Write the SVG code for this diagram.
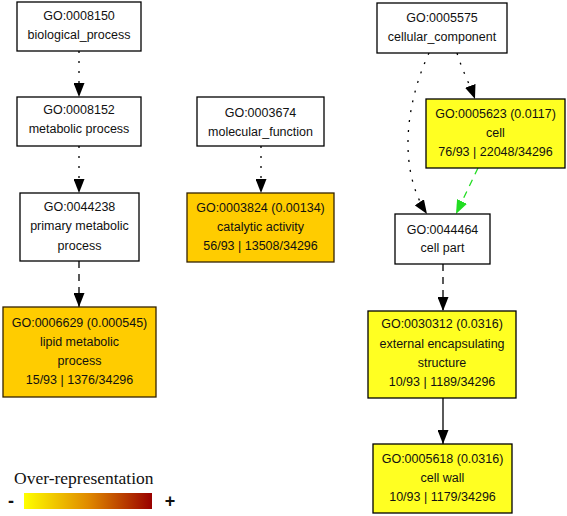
<svg xmlns="http://www.w3.org/2000/svg" width="567" height="516" viewBox="0 0 567 516">
<defs>
<marker id="ah" viewBox="0 0 14 11" refX="14" refY="5.5" markerWidth="14" markerHeight="11" markerUnits="userSpaceOnUse" orient="auto"><path d="M0,0 L14,5.5 L0,11 z" fill="#000"/></marker>
<marker id="ahg" viewBox="0 0 14 11" refX="14" refY="5.5" markerWidth="14" markerHeight="11" markerUnits="userSpaceOnUse" orient="auto"><path d="M0,0 L14,5.5 L0,11 z" fill="#22dd22"/></marker>
<linearGradient id="grad" x1="0" y1="0" x2="1" y2="0"><stop offset="0" stop-color="#ffff00"/><stop offset="0.5" stop-color="#e08a00"/><stop offset="1" stop-color="#990000"/></linearGradient>
</defs>
<style>
.n{stroke:#000;stroke-width:1.3}
.w{fill:#fff}
.g{fill:#ffcc00;stroke:#332200}
.y{fill:#ffff22}
text{font-family:"Liberation Sans",Arial,sans-serif;font-size:12.5px;text-anchor:middle;fill:#111}
.e{fill:none;stroke:#000;stroke-width:1.3}
.dot{stroke-dasharray:2,8}
.dash{stroke-dasharray:7,6}
.pm{font-size:18px;font-weight:bold}
</style>
<rect width="567" height="516" fill="#fff"/>
<g id="connectors">
<path class="e dot" d="M79,51 L79,97" marker-end="url(#ah)"/>
<path class="e dot" d="M79,146 L79,193" marker-end="url(#ah)"/>
<path class="e dash" d="M79,261 L79,307" marker-end="url(#ah)"/>
<path class="e dot" d="M261,146 L261,193" marker-end="url(#ah)"/>
<path class="e dot" d="M457,53 C462,70 470,85 475,99" marker-end="url(#ah)"/>
<path class="e dot" d="M429,53 C405,105 398,170 427,214" marker-end="url(#ah)"/>
<path class="e dash" d="M478,168 L456,214" style="stroke:#22dd22" marker-end="url(#ahg)"/>
<path class="e dash" d="M443,264 L443,311" marker-end="url(#ah)"/>
<path class="e" d="M443,398 L443,444" marker-end="url(#ah)"/>
</g>
<g id="n0008150"><rect class="n w" x="17" y="2" width="124" height="49"/><text x="79" y="19.5">GO:0008150</text><text x="79" y="38.5">biological_process</text></g>
<g id="n0008152"><rect class="n w" x="17" y="97" width="124" height="49"/><text x="79" y="113.5">GO:0008152</text><text x="79" y="132.5">metabolic process</text></g>
<g id="n0044238"><rect class="n w" x="20" y="193" width="119" height="68"/><text x="79.5" y="210.5">GO:0044238</text><text x="79.5" y="230">primary metabolic</text><text x="79.5" y="249.5">process</text></g>
<g id="n0006629"><rect class="n g" x="3" y="307" width="153" height="90"/><text x="79.5" y="326.5">GO:0006629 (0.000545)</text><text x="79.5" y="346">lipid metabolic</text><text x="79.5" y="365">process</text><text x="79.5" y="384">15/93 | 1376/34296</text></g>
<g id="n0003674"><rect class="n w" x="197" y="97" width="127" height="49"/><text x="260.5" y="116.5">GO:0003674</text><text x="260.5" y="135.5">molecular_function</text></g>
<g id="n0003824"><rect class="n g" x="187" y="193" width="147" height="69"/><text x="260.5" y="211.5">GO:0003824 (0.00134)</text><text x="260.5" y="230.5">catalytic activity</text><text x="260.5" y="249.5">56/93 | 13508/34296</text></g>
<g id="n0005575"><rect class="n w" x="377" y="3" width="130" height="50"/><text x="442" y="21.5">GO:0005575</text><text x="442" y="40.5">cellular_component</text></g>
<g id="n0005623"><rect class="n y" x="426" y="99" width="139" height="69"/><text x="495.5" y="117.5">GO:0005623 (0.0117)</text><text x="495.5" y="136.5">cell</text><text x="495.5" y="156">76/93 | 22048/34296</text></g>
<g id="n0044464"><rect class="n w" x="395" y="214" width="95" height="50"/><text x="442.5" y="233.5">GO:0044464</text><text x="442.5" y="251.5">cell part</text></g>
<g id="n0030312"><rect class="n y" x="368" y="311" width="148" height="87"/><text x="442" y="327.5">GO:0030312 (0.0316)</text><text x="442" y="347.5">external encapsulating</text><text x="442" y="366.5">structure</text><text x="442" y="385.5">10/93 | 1189/34296</text></g>
<g id="n0005618"><rect class="n y" x="373" y="444" width="139" height="69"/><text x="442.5" y="462.5">GO:0005618 (0.0316)</text><text x="442.5" y="481.5">cell wall</text><text x="442.5" y="500.5">10/93 | 1179/34296</text></g>
<g id="legend">
<text x="14" y="484" style="font-family:'Liberation Serif','Times New Roman',serif;font-size:17.5px;text-anchor:start">Over-representation</text>
<rect x="24" y="493" width="128" height="16" fill="url(#grad)"/>
<text class="pm" x="11" y="507">-</text>
<text class="pm" x="170" y="507">+</text>
</g>
</svg>
